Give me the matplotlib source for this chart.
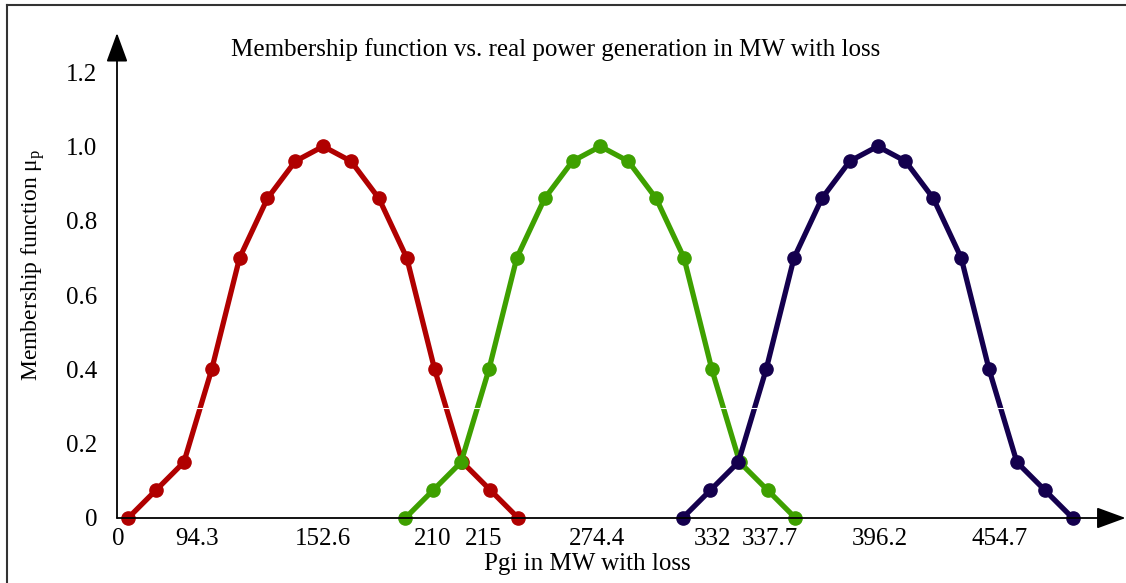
import matplotlib
matplotlib.use("Agg")
import matplotlib.pyplot as plt
from matplotlib.lines import Line2D

plt.rcParams['font.family'] = ['Liberation Serif', 'DejaVu Serif']
plt.rcParams['mathtext.fontset'] = 'custom'
plt.rcParams['mathtext.rm'] = 'Liberation Serif'
plt.rcParams['mathtext.it'] = 'Liberation Serif:italic'

# membership values (same shape for each unit)
mu_values = [0, 0.075, 0.15, 0.40, 0.70, 0.86, 0.96, 1.0, 0.96, 0.86, 0.70, 0.40, 0.15, 0.075, 0]

# sample positions along the (non-linear) generation axis
red_x = [0.4, 1.4, 2.4, 3.4, 4.4, 5.4, 6.4, 7.4, 8.4, 9.4, 10.4, 11.4, 12.4, 13.4, 14.4]
green_x = [10.35, 11.35, 12.35, 13.35, 14.35, 15.35, 16.35, 17.35, 18.35, 19.35, 20.35, 21.35, 22.35, 23.35, 24.35]
blue_x = [20.3, 21.3, 22.3, 23.3, 24.3, 25.3, 26.3, 27.3, 28.3, 29.3, 30.3, 31.3, 32.3, 33.3, 34.3]

xtick_pos = [0.05, 2.87, 7.39, 11.34, 13.17, 17.23, 21.39, 23.44, 27.39, 31.69]
xtick_labels = ['0', '94.3', '152.6', '210', '215', '274.4', '332', '337.7', '396.2', '454.7']
ytick_pos = [0, 0.2, 0.4, 0.6, 0.8, 1.0, 1.2]
ytick_labels = ['0', '0.2', '0.4', '0.6', '0.8', '1.0', '1.2']

colors = ['#b00000', '#3ea000', '#14004e']

fig = plt.figure(figsize=(11.26, 5.83), dpi=100)
ax = fig.add_axes([117/1126, 65/583, 1003/1126, 485/583])
ax.set_xlim(0, 36)
ax.set_ylim(0, 1.305)

for xs, c in zip([red_x, green_x, blue_x], colors):
    ax.plot(xs, mu_values, color=c, lw=3.8, marker='o', ms=9.5, zorder=3,
            solid_capstyle='round', clip_on=False)

# faint white grid artefact
ax.axhline(0.296, color='white', lw=0.8, zorder=4)

for s in ax.spines.values():
    s.set_visible(False)

arrow_style = '-|>,head_length=0.9,head_width=0.33'
ax.annotate('', xy=(36.2, 0), xytext=(0, 0), xycoords='data',
            arrowprops=dict(arrowstyle=arrow_style, color='black', lw=1.3,
                            mutation_scale=20, shrinkA=0, shrinkB=0),
            annotation_clip=False, zorder=5)
ax.annotate('', xy=(0, 1.305), xytext=(0, 0), xycoords='data',
            arrowprops=dict(arrowstyle=arrow_style, color='black', lw=1.3,
                            mutation_scale=20, shrinkA=0, shrinkB=0),
            annotation_clip=False, zorder=5)

ax.set_xticks(xtick_pos)
ax.set_xticklabels(xtick_labels, fontsize=18)
ax.set_yticks(ytick_pos)
ax.set_yticklabels(ytick_labels, fontsize=18)
ax.tick_params(axis='both', length=0)
ax.tick_params(axis='x', pad=7)
ax.tick_params(axis='y', pad=14)

ax.set_xlabel('Pgi in MW with loss', fontsize=18)
ax.xaxis.set_label_coords((587 - 117) / 1003, (518 - 553) / 485)
ax.set_ylabel('Membership function μ$_\\mathrm{p}$', fontsize=17)
ax.yaxis.set_label_coords((47 - 117) / 1003, (518 - 265) / 485)
fig.text(556/1126, 1 - 50/583, 'Membership function vs. real power generation in MW with loss',
         ha='center', va='center', fontsize=18)

# outer frame (left and top edges)
fig.add_artist(Line2D([7/1126, 7/1126], [0, 1 - 5/583], color='#333333', lw=1.5,
                      transform=fig.transFigure))
fig.add_artist(Line2D([7/1126, 1], [1 - 5/583, 1 - 5/583], color='#333333', lw=1.5,
                      transform=fig.transFigure))

fig.savefig('out.png', dpi=100)
